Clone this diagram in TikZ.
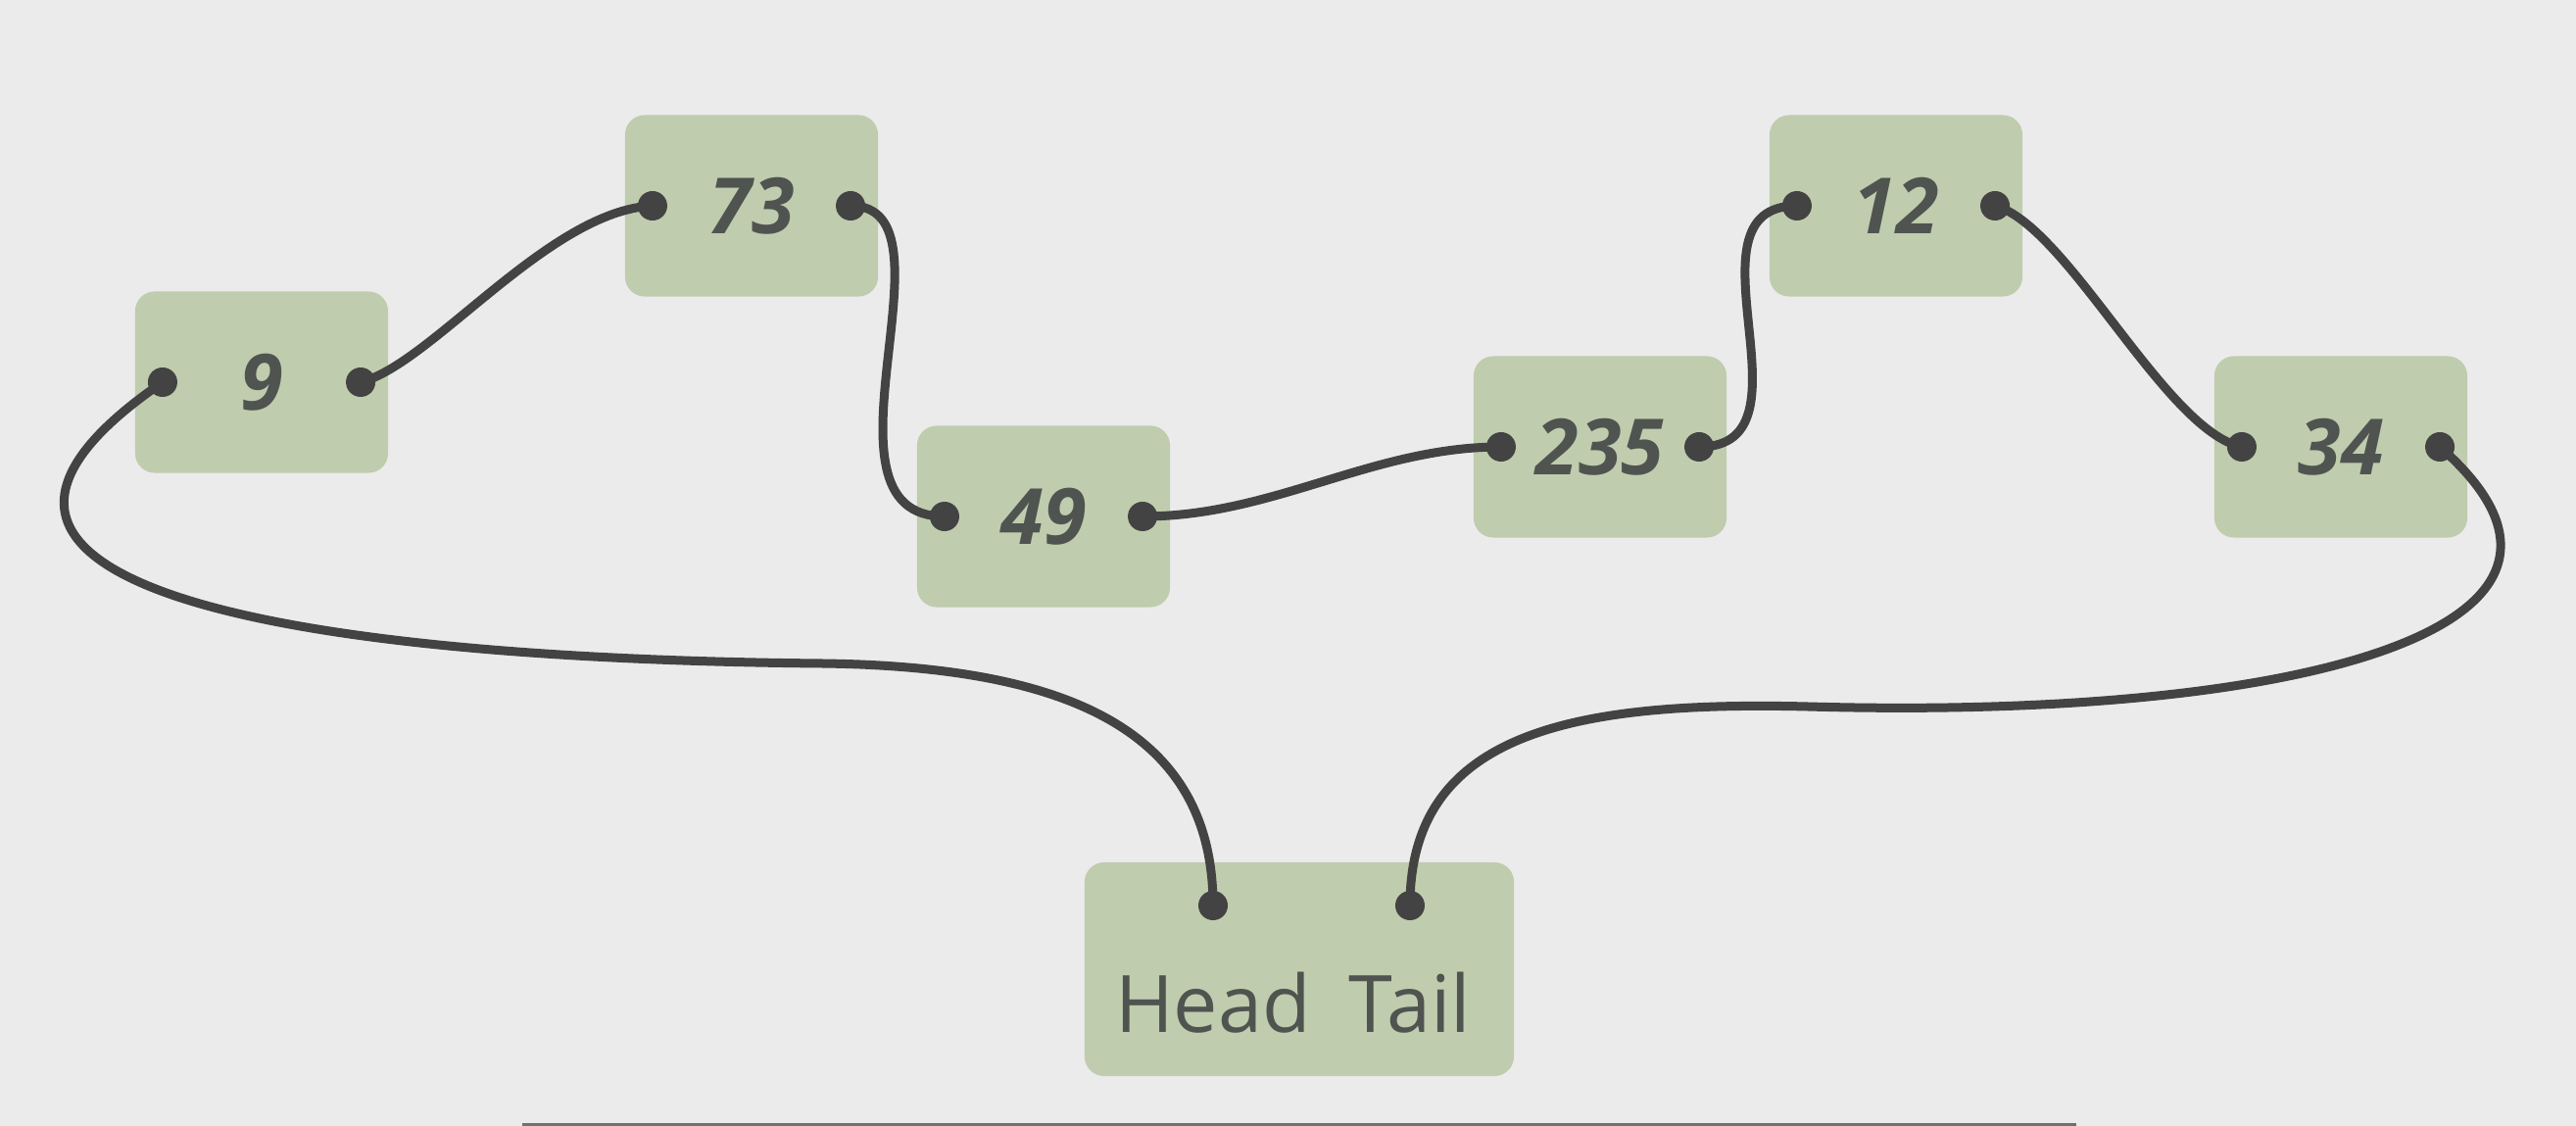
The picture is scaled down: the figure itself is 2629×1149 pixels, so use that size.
\documentclass[tikz,border=0pt]{standalone}
\usepackage{fontspec}
\setmainfont{Open Sans}
\usetikzlibrary{positioning}
\definecolor{bggray}{RGB}{235,235,235}
\definecolor{nodegreen}{RGB}{191,204,174}
\definecolor{textgray}{RGB}{79,84,80}
\definecolor{linkgray}{RGB}{67,67,67}
\definecolor{rulegray}{RGB}{112,112,112}
\tikzset{
    % Value box style
    valbox/.style={
        rectangle, fill=nodegreen,
        minimum width=2.58cm, minimum height=1.85cm,
        rounded corners=0.2cm, text=textgray,
        font=\fontsize{22.5}{27}\selectfont\bfseries\itshape
    },
    % Head/Tail box style
    endsbox/.style={
        rectangle, fill=nodegreen,
        minimum width=4.38cm, minimum height=2.18cm,
        rounded corners=0.2cm
    },
    % Head/Tail label style
    endslabel/.style={
        anchor=base, inner sep=0pt, text=textgray,
        font=\fontsize{23}{28}\selectfont
    },
    % Pointer dot style
    ptrdot/.style={
        circle, fill=linkgray, inner sep=0pt, minimum size=0.3cm
    },
    % Link style
    link/.style={
        draw=linkgray, line width=0.09cm, line cap=round
    }
}

\begin{document}
\begin{tikzpicture}[x=0.01cm, y=-0.01cm]

% Background and bottom rule
\useasboundingbox (0,0) rectangle (2629,1149);
\fill[bggray] (0,0) rectangle (2629,1149);
\fill[rulegray] (533,1146) rectangle (2119,1149);

% Value boxes
\node[valbox] (n9) at (267,390) {9};
\node[valbox] (n73) at (767,210) {73};
\node[valbox] (n49) at (1065,527) {49};
\node[valbox] (n235) at (1633,456) {235};
\node[valbox] (n12) at (1935,210) {12};
\node[valbox] (n34) at (2389,456) {34};

% Pointer dots on each value box
\foreach \v in {n9,n73,n49,n235,n12,n34}{
    \node[ptrdot] (\v-l) at ([xshift=-1.01cm]\v.center) {};
    \node[ptrdot] (\v-r) at ([xshift=1.01cm]\v.center) {};
}

% Head/Tail box
\node[endsbox] (ends) at (1326,989) {};
\node[endslabel] (headtxt) at (1238,1053) {Head};
\node[endslabel] (tailtxt) at (1439,1053) {Tail};
\node[ptrdot] (head) at (1238,924) {};
\node[ptrdot] (tail) at (1439,924) {};

% Bends of the long links
\coordinate (headbend) at (839,677);
\coordinate (tailbend) at (1845,721);

% Links between the values
\draw[link] (n9-r.center) .. controls (440,372) and (560,215) .. (n73-l.center);
\draw[link] (n73-r.center) .. controls (985,210) and (820,527) .. (n49-l.center);
\draw[link] (n49-r.center) .. controls (1300,527) and (1400,456) .. (n235-l.center);
\draw[link] (n235-r.center) .. controls (1860,456) and (1710,210) .. (n12-l.center);
\draw[link] (n12-r.center) .. controls (2110,230) and (2210,440) .. (n34-l.center);

% Head and tail links
\draw[link] (head.center) .. controls (1238,740) and (1080,680) .. (headbend)
    .. controls (300,672) and (-140,600) .. (n9-l.center);
\draw[link] (tail.center) .. controls (1439,750) and (1600,715) .. (tailbend)
    .. controls (2350,735) and (2700,640) .. (n34-r.center);

\end{tikzpicture}
\end{document}
